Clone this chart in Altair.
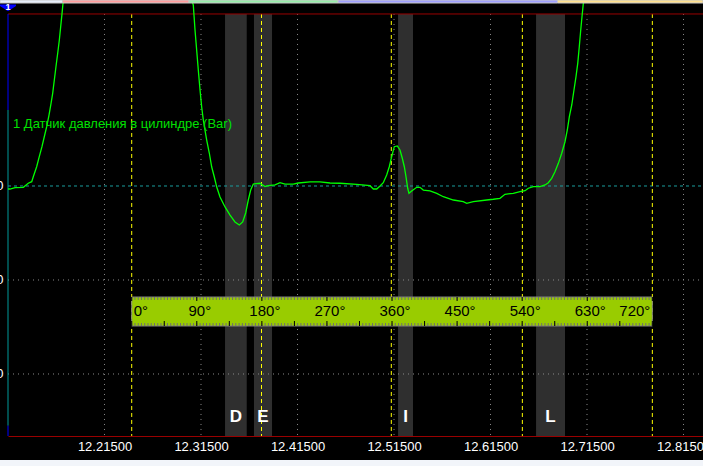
import altair as alt
import pandas as pd

# ---------------- data ----------------
time_s = [12.1150, 12.1171, 12.1223, 12.1309, 12.1360, 12.1396, 12.1412, 12.1447, 12.1474, 12.1502,
          12.1526, 12.1551, 12.1575, 12.1596, 12.1613, 12.1630, 12.1647, 12.1665, 12.1682, 12.1696,
          12.1710, 12.1720, 12.2394,
          12.3070, 12.3088, 12.3105, 12.3122, 12.3140, 12.3157, 12.3174, 12.3191, 12.3209, 12.3236,
          12.3261, 12.3288, 12.3313, 12.3347, 12.3399, 12.3451, 12.3502, 12.3547, 12.3582, 12.3613,
          12.3640, 12.3665, 12.3692, 12.3761, 12.3813, 12.3847, 12.3917, 12.3969, 12.4021, 12.4107,
          12.4158, 12.4280, 12.4383, 12.4487, 12.4590, 12.4763, 12.4901, 12.4936, 12.4971, 12.5005,
          12.5039, 12.5074, 12.5101, 12.5126, 12.5153, 12.5184, 12.5212, 12.5236, 12.5257, 12.5274,
          12.5292, 12.5305, 12.5333, 12.5385, 12.5419, 12.5454, 12.5523, 12.5593, 12.5661, 12.5765,
          12.5868, 12.5903, 12.5972, 12.6111, 12.6179, 12.6248, 12.6300, 12.6386, 12.6456, 12.6508,
          12.6542, 12.6594, 12.6663, 12.6715, 12.6749, 12.6784, 12.6818, 12.6853, 12.6888, 12.6922,
          12.6946, 12.6967, 12.6992, 12.7015, 12.7036, 12.7054, 12.7070, 12.7085, 12.7098, 12.7112,
          12.8352]
pressure = [-0.032, -0.032, -0.018, -0.014, 0.029, 0.046, 0.099, 0.205, 0.312, 0.418,
            0.524, 0.631, 0.755, 0.880, 0.986, 1.128, 1.269, 1.412, 1.553, 1.695,
            1.837, 1.944, 4.0,
            1.926, 1.660, 1.447, 1.234, 1.021, 0.840, 0.702, 0.596, 0.489, 0.351,
            0.202, 0.096, -0.011, -0.117, -0.223, -0.309, -0.383, -0.415, -0.383, -0.287,
            -0.149, -0.043, 0.021, 0.029, -0.007, 0.003, 0.011, 0.035, 0.021, 0.021,
            0.032, 0.043, 0.043, 0.032, 0.029, 0.018, 0.003, -0.032, -0.032, 0.000,
            0.035, 0.117, 0.205, 0.312, 0.418, 0.426, 0.383, 0.295, 0.205, 0.099,
            -0.024, -0.078, -0.053, -0.014, -0.014, -0.043, -0.053, -0.078, -0.114, -0.149,
            -0.167, -0.184, -0.167, -0.149, -0.141, -0.131, -0.088, -0.078, -0.061, -0.050,
            -0.024, -0.007, -0.007, 0.011, 0.035, 0.082, 0.152, 0.241, 0.348, 0.471,
            0.596, 0.737, 0.862, 1.021, 1.163, 1.305, 1.482, 1.660, 1.801, 1.944,
            4.0]

x_ticks = [12.215, 12.315, 12.415, 12.515, 12.615, 12.715, 12.815]
y_ticks = [0, -1, -2]
upper_limit = 1.83          # red marker line
tdc_marks = [12.2432, 12.3777, 12.5122, 12.6480, 12.7827]

band_names = ["D", "E", "I", "L"]
band_start = [12.3399, 12.3699, 12.5192, 12.6622]
band_end = [12.3624, 12.3886, 12.5347, 12.6922]

ruler_labels = [0, 90, 180, 270, 360, 450, 540, 630, 720]
ruler_major = [0, 45, 90, 135, 180, 225, 270, 315, 360, 405, 450, 495, 540, 585, 630, 675, 720]
ruler_minor = [i * 4.5 for i in range(161)]

strip_start = [12.1067, 12.1715, 12.3026, 12.4570, 12.6844]
strip_end = [12.1715, 12.3026, 12.4570, 12.6844, 12.8352]
strip_colors = ["#e6eefa", "#ff9c9c", "#98eeaa", "#a0a0ff", "#ffe08e"]

channel_label = "1 Датчик давления в цилиндре (Bar)"

# ---------------- chart ----------------
X0, X1 = 12.115, 12.8352
Y0, Y1 = -2.6596, 1.9468
W, H = 695, 433
FONT = "Liberation Sans"

xs = alt.Scale(domain=[X0, X1], nice=False, zero=False)
ys = alt.Scale(domain=[Y0, Y1], nice=False, zero=False)
x_axis = alt.Axis(values=x_ticks, format=".5f", labelColor="white", labelFont=FONT,
                  labelFontSize=13, ticks=False, grid=False, domainColor="#990000",
                  domainWidth=1, labelPadding=4, labelOverlap=False, labelFlush=False,
                  title=None)
y_axis = alt.Axis(values=y_ticks, format=".1f", labelColor="white", labelFont=FONT,
                  labelFontSize=13, ticks=False, grid=False, domain=False, labelPadding=5,
                  labelOverlap=False, title=None)


def X(field):
    return alt.X(field, type="quantitative", scale=xs, axis=x_axis)


def Y(field):
    return alt.Y(field, type="quantitative", scale=ys, axis=y_axis)


curve_df = pd.DataFrame({"t": time_s, "p": pressure})
tick_df = pd.DataFrame({"t": x_ticks, "top": [upper_limit] * len(x_ticks), "bot": [Y0] * len(x_ticks)})
ygrid_df = pd.DataFrame({"v": [v for v in y_ticks if v != 0]})
zero_df = pd.DataFrame({"v": [0]})
tdc_df = pd.DataFrame({"t": tdc_marks, "top": [upper_limit] * 5, "bot": [Y0] * 5})
band_df = pd.DataFrame({"name": band_names, "s": band_start, "e": band_end,
                        "top": [upper_limit] * 4, "bot": [Y0] * 4})
band_df["mid"] = (band_df["s"] + band_df["e"]) / 2
strip_df = pd.DataFrame({"s": strip_start, "e": strip_end, "c": strip_colors})
limit_df = pd.DataFrame({"v": [upper_limit]})

t0, t720 = tdc_marks[0], tdc_marks[-1]
ang_expr = f"{t0} + datum.a / 720 * ({t720} - {t0})"

bands = alt.Chart(band_df).mark_rect(color="#2f2f2f").encode(
    x=X("s"), x2="e", y=Y("top"), y2="bot")

vgrid = alt.Chart(tick_df).mark_rule(color="#8a8a8a", strokeDash=[1, 4], strokeWidth=1).encode(
    x=X("t"), y=Y("top"), y2="bot")

hgrid = alt.Chart(ygrid_df).mark_rule(color="#8a8a8a", strokeDash=[1, 4], strokeWidth=1).encode(
    y=Y("v"), x=alt.value(0), x2=alt.value(W))

zero_line = alt.Chart(zero_df).mark_rule(color="#1a9c9c", strokeDash=[3, 3], strokeWidth=1).encode(
    y=Y("v"), x=alt.value(0), x2=alt.value(W))

tdc_lines = alt.Chart(tdc_df).mark_rule(color="#ffff00", strokeDash=[4, 3], strokeWidth=1).encode(
    x=X("t"), y=Y("top"), y2="bot")

limit_line = alt.Chart(limit_df).mark_rule(color="#990000", strokeWidth=1).encode(
    y=Y("v"), x=alt.value(0), x2=alt.value(W))

# left axis coloured segments
axis_df = pd.DataFrame({"a": [upper_limit, 0.809, -2.550], "b": [0.809, -2.550, Y0],
                        "c": ["#0000ff", "#009a9a", "#0000ff"]})
left_axis = alt.Chart(axis_df).mark_rule(strokeWidth=1).encode(
    y=Y("a"), y2="b", x=alt.value(0), color=alt.Color("c:N", scale=None))

curve = alt.Chart(curve_df).mark_line(color="#00ff00", strokeWidth=1.3, clip=True).encode(
    x=X("t"), y=Y("p"))

label = alt.Chart(pd.DataFrame({"txt": [channel_label]})).mark_text(
    align="left", baseline="middle", color="#00e000", font=FONT, fontSize=13).encode(
    text="txt:N", x=alt.value(5), y=alt.value(121))

band_labels = alt.Chart(band_df).mark_text(
    color="white", font=FONT, fontSize=17, fontWeight="bold", baseline="middle").encode(
    x=X("mid"), y=alt.value(414), text="name:N")

# crank-angle ruler
ruler_box = alt.Chart(pd.DataFrame({"a": [0], "b": [720]})).transform_calculate(
    ta=ang_expr, tb=f"{t0} + datum.b / 720 * ({t720} - {t0})").mark_rect(
    color="#99cc00", stroke="#808080", strokeWidth=1).encode(
    x=X("ta"), x2="tb", y=alt.value(294), y2=alt.value(323))

minor_df = pd.DataFrame({"a": ruler_minor})
major_df = pd.DataFrame({"a": ruler_major})
label_df = pd.DataFrame({"a": ruler_labels, "txt": [f"{a}°" for a in ruler_labels]})

minor_top = alt.Chart(minor_df).transform_calculate(t=ang_expr).mark_rule(
    color="#707070", strokeWidth=1).encode(x=X("t"), y=alt.value(294), y2=alt.value(297))
minor_bot = alt.Chart(minor_df).transform_calculate(t=ang_expr).mark_rule(
    color="#707070", strokeWidth=1).encode(x=X("t"), y=alt.value(320), y2=alt.value(323))
major_top = alt.Chart(major_df).transform_calculate(t=ang_expr).transform_filter(
    "datum.a % 90 == 0").mark_rule(color="black", strokeWidth=1).encode(
    x=X("t"), y=alt.value(294), y2=alt.value(298))
major_bot = alt.Chart(major_df).transform_calculate(t=ang_expr).mark_rule(
    color="black", strokeWidth=1).encode(x=X("t"), y=alt.value(318), y2=alt.value(323))

rl_common = dict(color="black", font=FONT, fontSize=15, baseline="middle")
ruler_first = alt.Chart(label_df).transform_calculate(t=ang_expr).transform_filter(
    "datum.a == 0").mark_text(align="left", dx=2, **rl_common).encode(
    x=X("t"), y=alt.value(308), text="txt:N")
ruler_mid = alt.Chart(label_df).transform_calculate(t=ang_expr).transform_filter(
    "datum.a > 0 && datum.a < 720").mark_text(align="center", dx=3, **rl_common).encode(
    x=X("t"), y=alt.value(308), text="txt:N")
ruler_last = alt.Chart(label_df).transform_calculate(t=ang_expr).transform_filter(
    "datum.a == 720").mark_text(align="right", dx=-2, **rl_common).encode(
    x=X("t"), y=alt.value(308), text="txt:N")

# top colour strip
strip = alt.Chart(strip_df).mark_rect(stroke="#c8c8c8", strokeWidth=1).encode(
    x=X("s"), x2="e", y=alt.value(-3), y2=alt.value(0), color=alt.Color("c:N", scale=None))

# bottom window strip
bottom_strip = alt.Chart(pd.DataFrame({"k": [0]})).mark_rect(color="#f2f5fa").encode(
    x=alt.value(-8), x2=alt.value(W), y=alt.value(457), y2=alt.value(463))

# channel marker
marker = alt.Chart(pd.DataFrame({"k": ["1"]})).mark_point(
    shape="M-1,-0.45 L1,-0.45 L1,-0.25 L0,0.4 L-1,-0.25 Z", size=256, filled=True,
    color="#0000ff", opacity=1).encode(x=alt.value(0), y=alt.value(5))
marker_txt = alt.Chart(pd.DataFrame({"k": ["1"]})).mark_text(
    color="white", font=FONT, fontSize=9, fontWeight="bold", baseline="middle").encode(
    x=alt.value(0), y=alt.value(4), text="k:N")

chart = alt.layer(
    bands, vgrid, hgrid, zero_line, tdc_lines, limit_line, left_axis,
    ruler_box, minor_top, minor_bot, major_top, major_bot, ruler_first, ruler_mid, ruler_last,
    curve, label, band_labels, strip, bottom_strip, marker, marker_txt
).properties(
    width=W, height=H,
    autosize=alt.AutoSizeParams(type="none"),
    padding={"left": 8, "top": 3, "right": 0, "bottom": 30},
    background="black"
).configure_view(stroke=None)

chart.save("out.html", embed_options={"renderer": "svg", "actions": False})
